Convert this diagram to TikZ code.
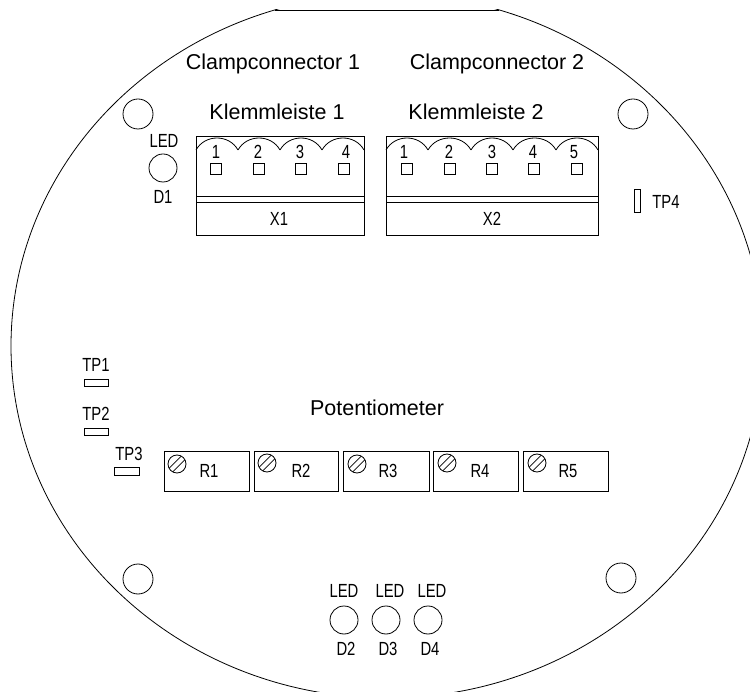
\documentclass[tikz,border=0pt]{standalone}
\usepackage{fontspec}
\setmainfont{Liberation Sans}
\newfontfamily\narrowfont[FakeStretch=0.78]{Liberation Sans}
\tikzset{
  plan/.style={line width=0.8pt},
  bigtext/.style={font=\fontsize{21.5}{24}\selectfont,inner sep=0pt,text height=15pt,text depth=0pt},
  smalltext/.style={font=\narrowfont\fontsize{19}{21}\selectfont,inner sep=0pt,text height=13.5pt,text depth=0pt},
  hole/.style={draw,circle,plan,minimum size=30pt,inner sep=0pt},
  led/.style={draw,circle,plan,minimum size=28pt,inner sep=0pt},
  screw/.style={draw,circle,plan,minimum size=18pt,inner sep=0pt}
}
\begin{document}
\begin{tikzpicture}[x=1pt,y=-1pt]
  \useasboundingbox (0,0) rectangle (750,692);
  % outline
  \begin{scope}
    \clip (0,10) rectangle (750,692);
    \draw[plan] (387,346) ellipse [x radius=376,y radius=352];
  \end{scope}
  \draw[plan] (275,10) -- (499,10);
  % mounting holes
  \node[hole] (holeA) at (138,114) {};
  \node[hole] (holeB) at (633,114) {};
  \node[hole] (holeC) at (138,579) {};
  \node[hole] (holeD) at (621,578) {};
  % headings
  \node[bigtext] (clampA) at (273,62) {Clampconnector 1};
  \node[bigtext] (clampB) at (497,62) {Clampconnector 2};
  \node[bigtext] (klemmA) at (277,112) {Klemmleiste 1};
  \node[bigtext] (klemmB) at (476,112) {Klemmleiste 2};
  \node[bigtext] (poti) at (377,408) {Potentiometer};
  % clamp 1
  \draw[plan] (196,136) rectangle (364,235);
  \draw[plan] (196,196) -- (364,196);
  \draw[plan] (196,202) -- (364,202);
  \foreach \a/\b in {196/238,238/280,280/322,322/364}
    \draw[plan] (\a,150) .. controls (\a+9,134) and (\b-9,134) .. (\b,150);
  \foreach \n/\x/\lx in {1/216/216,2/259/258,3/301/300,4/344/346} {
    \draw[plan] (\x-5.5,163.5) rectangle (\x+5.5,174.5);
    \node[smalltext] (numA\n) at (\lx,152) {\n};
  }
  \node[smalltext] (xA) at (279,219) {X1};
  % clamp 2
  \draw[plan] (386,136) rectangle (598,235);
  \draw[plan] (386,196) -- (598,196);
  \draw[plan] (386,202) -- (598,202);
  \foreach \a/\b in {386/428,428/471,471/513,513/556,556/598}
    \draw[plan] (\a,150) .. controls (\a+9,134) and (\b-9,134) .. (\b,150);
  \foreach \n/\x/\lx in {1/407/404,2/450/449,3/492/492,4/534/533,5/577/574} {
    \draw[plan] (\x-5.5,163.5) rectangle (\x+5.5,174.5);
    \node[smalltext] (numB\n) at (\lx,152) {\n};
  }
  \node[smalltext] (xB) at (492,219) {X2};
  % leds
  \node[smalltext] (ledA) at (164,141) {LED};
  \node[led] (dA) at (163,168) {};
  \node[smalltext] (dlA) at (163,197) {D1};
  \foreach \n/\x/\lx/\dx in {2/344/344/346,3/386/390/388,4/428/432/430} {
    \node[smalltext] (ledtext\n) at (\lx,591) {LED};
    \node[led] (d\n) at (\x,620) {};
    \node[smalltext] (dl\n) at (\dx,649) {D\n};
  }
  % test points
  \node[smalltext] (tpA) at (96,365) {TP1};
  \draw[plan] (84,379) rectangle (108,386);
  \node[smalltext] (tpB) at (96,414) {TP2};
  \draw[plan] (84,428) rectangle (108,435);
  \node[smalltext] (tpC) at (129,454) {TP3};
  \draw[plan] (114,467) rectangle (139,475);
  \node[smalltext] (tpD) at (666,202) {TP4};
  \draw[plan] (634,189) rectangle (640,212);
  % potentiometers
  \foreach \n/\l/\r/\sx/\sy/\lx in {1/164/249/177/464/209,2/254/338/267/463/301,3/343/429/357/464/388,4/433/518/447/463/480,5/523/608/537/463/568} {
    \draw[plan] (\l,451) rectangle (\r,491);
    \node[screw] (screw\n) at (\sx,\sy) {};
    \draw[plan] ([shift={(-4.3,7.9)}]screw\n.center) -- ([shift={(7.9,-4.3)}]screw\n.center);
    \draw[plan] ([shift={(-7.9,4.3)}]screw\n.center) -- ([shift={(4.3,-7.9)}]screw\n.center);
    \node[smalltext] (rtext\n) at (\lx,471) {R\n};
  }
\end{tikzpicture}
\end{document}
